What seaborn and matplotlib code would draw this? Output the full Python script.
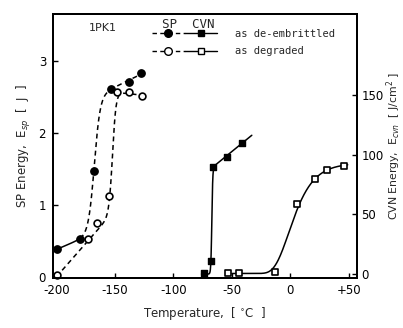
import numpy as np
import pandas as pd
import matplotlib
matplotlib.use("Agg")
import matplotlib.pyplot as plt
import seaborn as sns
from matplotlib.lines import Line2D
from matplotlib.legend_handler import HandlerTuple

# ---- data ----
sp_temp_de = [-200, -180, -168, -153, -138, -128]
sp_de = [0.38, 0.52, 1.47, 2.62, 2.72, 2.84]
sp_temp_dg = [-200, -173, -165, -155, -148, -138, -127]
sp_dg = [0.02, 0.52, 0.75, 1.13, 2.57, 2.58, 2.52]

cvn_temp_de = [-74, -68, -66, -54, -41]
cvn_de = [1, 11, 90, 98, 110]
cvn_temp_dg = [-53, -44, -13, 6, 21, 31, 46]
cvn_dg = [1, 1, 2, 59, 80, 87, 91]

x_ticks = [-200, -150, -100, -50, 0, 50]
x_ticklabels = ["-200", "-150", "-100", "-50", "0", "+50"]
sp_ticks = [0, 1, 2, 3]
cvn_ticks = [0, 50, 100, 150]

# transition-curve parameters (lower shelf line, upper shelf line, T0, width)
sp_de_fit = dict(lo=((-200, 0.38), (-180, 0.52)), up=((-153, 2.62), (-128, 2.82)), t0=-167.7, c=5.0)
sp_dg_fit = dict(lo=((-200, 0.0), (-173, 0.50)), up=((-148, 2.57), (-127, 2.53)), t0=-152.0, c=3.0)
cvn_de_fit = dict(lo=((-80, 0.0), (-60, 0.0)), up=((-66, 90), (-41, 110)), t0=-67.2, c=0.8)
cvn_dg_shelf = (0.5, 93.0)
cvn_dg_t0, cvn_dg_c = -1.5, 12.0


def line_through(p, T):
    (x1, y1), (x2, y2) = p
    return y1 + (y2 - y1) / (x2 - x1) * (T - x1)


def tanh_curve(T, fit):
    w = 0.5 * (1 + np.tanh((T - fit["t0"]) / fit["c"]))
    lo = line_through(fit["lo"], T)
    up = line_through(fit["up"], T)
    return lo + (up - lo) * w


fig = plt.figure(figsize=(4.03, 3.28), dpi=100)
sns.set_style("ticks")
plt.rcParams["font.family"] = ["DejaVu Sans"]
ax = fig.add_axes([0.1315, 0.152, 0.7545, 0.805])
ax2 = ax.twinx()

dash = (0, (3.2, 2.4))
lw = 1.1

# SP curves (left axis)
T1 = np.linspace(-200, -180, 40)
sns.lineplot(x=T1, y=tanh_curve(T1, sp_de_fit), ax=ax, color="black", lw=lw)
T2 = np.linspace(-180, -123, 200)
ax.plot(T2, tanh_curve(T2, sp_de_fit), color="black", lw=lw, linestyle=dash)
T3 = np.linspace(-200, -126, 300)
ax.plot(T3, tanh_curve(T3, sp_dg_fit), color="black", lw=lw, linestyle=dash)

sns.scatterplot(x=sp_temp_de, y=sp_de, ax=ax, marker="o", s=28, color="black",
                edgecolor="black", linewidth=1.0, zorder=5, clip_on=False)
sns.scatterplot(x=sp_temp_dg, y=sp_dg, ax=ax, marker="o", s=24, color="white",
                edgecolor="black", linewidth=1.2, zorder=5, clip_on=False)

# CVN curves (right axis)
T4 = np.linspace(-76, -33, 400)
sns.lineplot(x=T4, y=tanh_curve(T4, cvn_de_fit), ax=ax2, color="black", lw=lw)
T5 = np.linspace(-50, 49, 300)
w5 = np.exp(-np.exp(-(T5 - cvn_dg_t0) / cvn_dg_c))
sns.lineplot(x=T5, y=cvn_dg_shelf[0] + (cvn_dg_shelf[1] - cvn_dg_shelf[0]) * w5,
             ax=ax2, color="black", lw=lw)

sns.scatterplot(x=cvn_temp_de, y=cvn_de, ax=ax2, marker="s", s=24, color="black",
                edgecolor="black", linewidth=1.0, zorder=5, clip_on=False)
sns.scatterplot(x=cvn_temp_dg, y=cvn_dg, ax=ax2, marker="s", s=24, color="white",
                edgecolor="black", linewidth=1.2, zorder=5, clip_on=False)

# axes
ax.set_xlim(-203, 57)
ax.set_ylim(-0.02, 3.66)
ax2.set_ylim(-3.4, 218)
ax.set_xticks(x_ticks)
ax.set_xticklabels(x_ticklabels)
ax.set_yticks(sp_ticks)
ax2.set_yticks(cvn_ticks)
for a in (ax, ax2):
    a.tick_params(direction="in", length=3.5, width=1.0, labelsize=8.5, colors="black", pad=3)
    for s in a.spines.values():
        s.set_visible(True)
        s.set_linewidth(1.4)
        s.set_color("black")
ax.tick_params(axis="x", pad=4)
ax.tick_params(axis="y", pad=5)

ax.set_xlabel("Temperature,  [ $^{\\circ}$C  ]", fontsize=8.5, labelpad=6)
ax.set_ylabel("SP Energy,  E$_{sp}$  [  J  ]", fontsize=8.5, labelpad=4)
ax2.set_ylabel("CVN Energy,  E$_{cvn}$  [ J/cm$^2$ ]", fontsize=7.8, rotation=90, labelpad=1)

ax.text(0.164, 0.947, "1PK1", transform=ax.transAxes, fontsize=8, ha="center", va="center")

# legend
h_de = (Line2D([], [], color="black", lw=1.0, linestyle=dash, marker="o", markersize=5.5,
               markerfacecolor="black", markeredgecolor="black"),
        Line2D([], [], color="black", lw=1.0, marker="s", markersize=5,
               markerfacecolor="black", markeredgecolor="black"))
h_dg = (Line2D([], [], color="black", lw=1.0, linestyle=dash, marker="o", markersize=5.5,
               markerfacecolor="white", markeredgecolor="black"),
        Line2D([], [], color="black", lw=1.0, marker="s", markersize=5,
               markerfacecolor="white", markeredgecolor="black"))
leg = ax2.legend([h_de, h_dg], ["as de-embrittled", "as degraded"],
                 handler_map={tuple: HandlerTuple(ndivide=None, pad=0.0)},
                 handlelength=6.3, handletextpad=1.7, labelspacing=0.75,
                 frameon=False, loc="upper left", bbox_to_anchor=(0.325, 0.945),
                 borderaxespad=0, borderpad=0,
                 prop={"family": "DejaVu Sans Mono", "size": 7.5})
ax.text(0.36, 0.962, "SP  CVN", transform=ax.transAxes, fontsize=9,
        family="DejaVu Sans Mono", ha="left", va="center")

fig.savefig("out.png", dpi=100)
